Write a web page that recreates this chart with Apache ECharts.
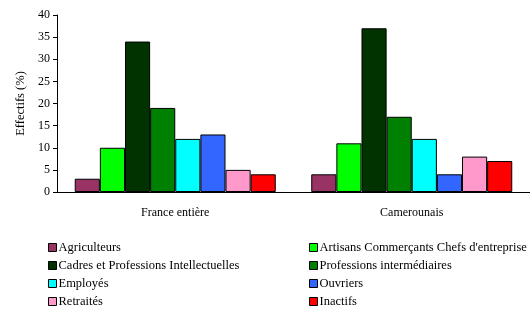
<!DOCTYPE html>
<html>
<head>
<meta charset="utf-8">
<script src="https://cdn.jsdelivr.net/npm/echarts@6/dist/echarts.min.js"></script>
<style>
  html, body { margin: 0; padding: 0; background: #fff; }
  #chart { width: 530px; height: 309px; }
</style>
</head>
<body>
<div id="chart"></div>
<script>
// groups on the x axis
var groups = ['France entière', 'Camerounais'];

// socio-professional categories and their colours
var categories = [
    'Agriculteurs',
    'Artisans Commerçants Chefs d\'entreprise',
    'Cadres et Professions Intellectuelles',
    'Professions intermédiaires',
    'Employés',
    'Ouvriers',
    'Retraités',
    'Inactifs'
];
var colors = ['#993366', '#00ff00', '#003300', '#008000', '#00ffff', '#3366ff', '#ff99cc', '#ff0000'];

// values per category: [France entière, Camerounais]
var agriculteurs = [3, 4];
var artisans = [10, 11];
var cadres = [34, 37];
var intermediaires = [19, 17];
var employes = [12, 12];
var ouvriers = [13, 4];
var retraites = [5, 8];
var inactifs = [4, 7];
var values = [agriculteurs, artisans, cadres, intermediaires, employes, ouvriers, retraites, inactifs];

var font = 'Liberation Serif';

var series = categories.map(function (name, i) {
    return {
        name: name,
        type: 'bar',
        data: values[i],
        barGap: 0,
        barCategoryGap: '15%',
        itemStyle: { color: colors[i], borderColor: '#000', borderWidth: 1 }
    };
});

var legendBase = {
    orient: 'vertical',
    top: 241,
    height: 100,
    itemWidth: 8,
    itemHeight: 8,
    itemGap: 5,
    icon: 'rect',
    textStyle: { fontFamily: font, fontSize: 12.5, color: '#000', padding: [0, 0, 0, -3] },
    itemStyle: { borderColor: '#000', borderWidth: 1 },
    padding: 0
};

var option = {
    animation: false,
    legend: [
        Object.assign({}, legendBase, { left: 48, data: [categories[0], categories[2], categories[4], categories[6]] }),
        Object.assign({}, legendBase, { left: 309, data: [categories[1], categories[3], categories[5], categories[7]] })
    ],
    grid: { left: 57, right: -6, top: 15, bottom: 117 },
    xAxis: {
        type: 'category',
        data: groups,
        axisLine: { lineStyle: { color: '#000' } },
        axisTick: { length: 4, lineStyle: { color: '#888' } },
        axisLabel: { fontFamily: font, fontSize: 12, color: '#000', margin: 15 }
    },
    yAxis: {
        type: 'value',
        min: 0,
        max: 40,
        interval: 5,
        name: 'Effectifs (%)',
        nameLocation: 'middle',
        nameRotate: 90,
        nameGap: 27,
        nameTextStyle: { fontFamily: font, fontSize: 12.5, color: '#000' },
        splitLine: { show: false },
        axisLine: { show: true, lineStyle: { color: '#000' } },
        axisTick: { show: true, length: 4, lineStyle: { color: '#000' } },
        axisLabel: { fontFamily: font, fontSize: 12, color: '#000', margin: 7 }
    },
    series: series
};

var chart = echarts.init(document.getElementById('chart'));
chart.setOption(option);
</script>
</body>
</html>
